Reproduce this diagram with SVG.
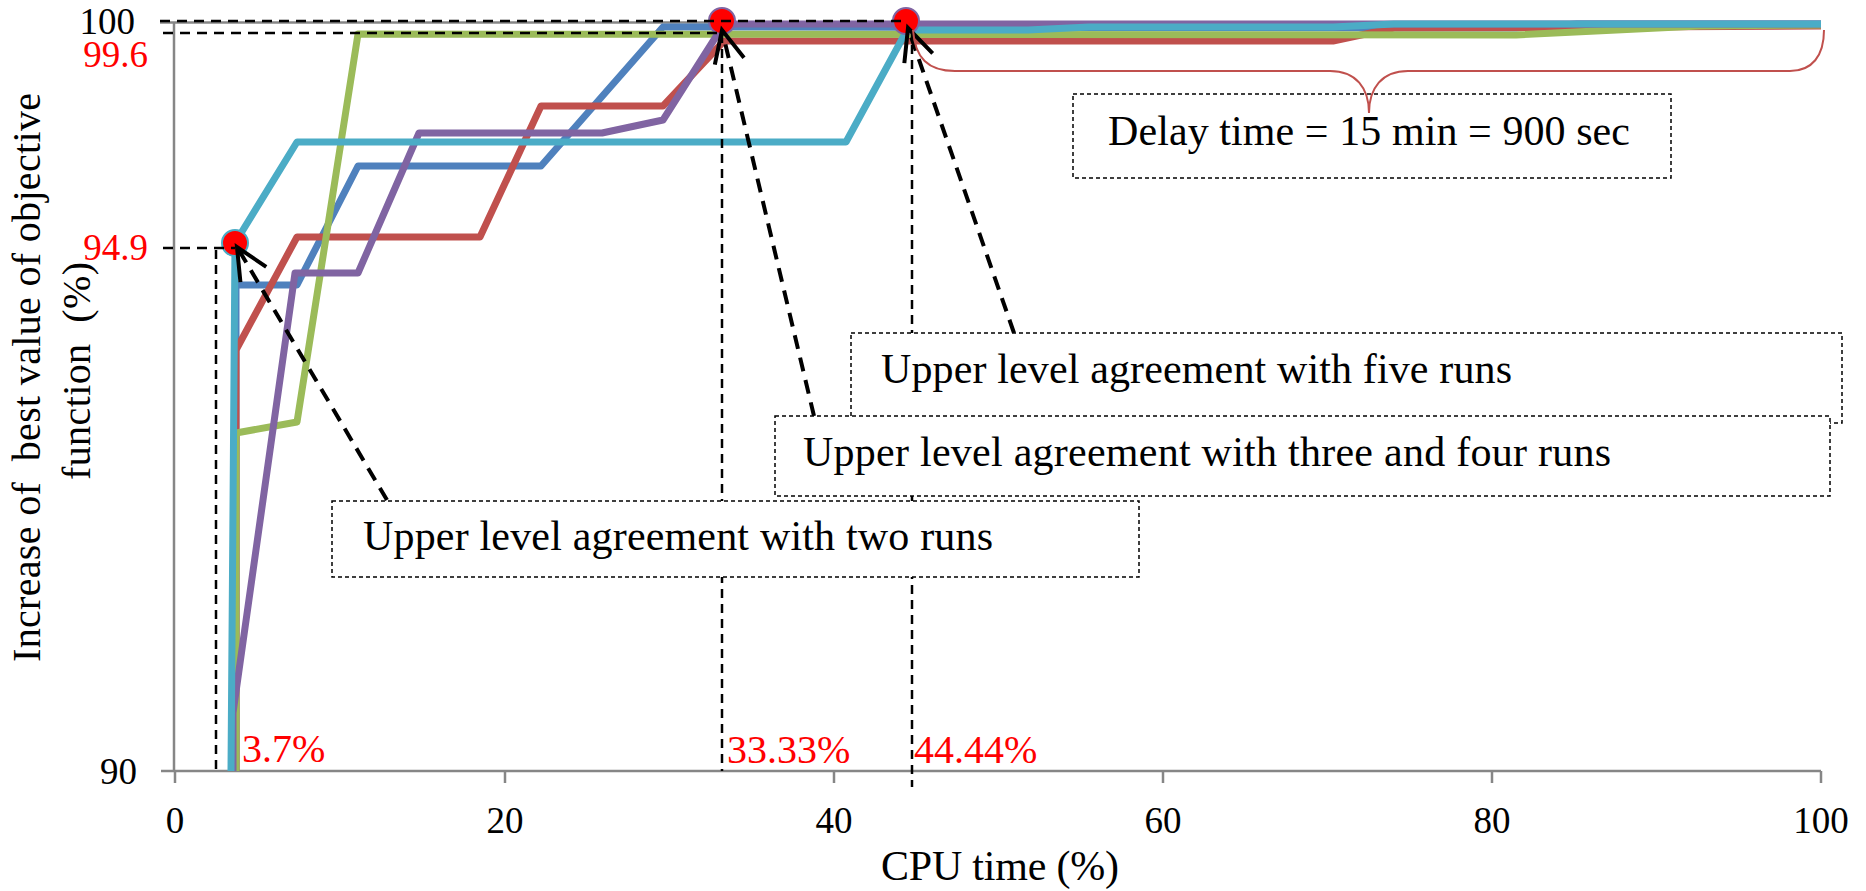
<svg xmlns="http://www.w3.org/2000/svg" width="1866" height="891" viewBox="0 0 1866 891">
<style>
text{font-family:"Liberation Serif","Times New Roman",serif;fill:#000}
.red{fill:#FF0000}
.axis{stroke:#868686;stroke-width:2.5;fill:none}
.s{fill:none;stroke-width:7;stroke-linejoin:round}
.ref{fill:none;stroke:#000;stroke-width:2.5;stroke-dasharray:10 7}
.vref{fill:none;stroke:#000;stroke-width:2.5;stroke-dasharray:9 6}
.arr{fill:none;stroke:#000;stroke-width:4;stroke-dasharray:14 9;marker-end:url(#head)}
.box{fill:#fff;stroke:#000;stroke-width:1.5;stroke-dasharray:4 3}
.dot{fill:#FF0000;stroke-width:2}
.lbl{font-size:40px}
.bt{font-size:42px}
.tick{font-size:37px}
</style>
<defs>
<marker id="head" markerUnits="userSpaceOnUse" orient="auto" markerWidth="80" markerHeight="80" refX="0" refY="0" viewBox="-40 -40 80 80" overflow="visible">
<path d="M-32,-15 L0,0 L-32,15" fill="none" stroke="#000" stroke-width="4"/>
</marker>
</defs>
<rect width="1866" height="891" fill="#fff"/>

<g id="axes">
<line class="axis" x1="174" y1="22" x2="174" y2="771"/>
<line class="axis" x1="160" y1="22.5" x2="1821" y2="22.5"/>
<line class="axis" x1="161" y1="771" x2="1821" y2="771"/>
<path class="axis" d="M175,771V783M505,771V783M834,771V783M1163,771V783M1492,771V783M1821,771V783"/>
<text class="tick" x="135" y="34" text-anchor="end">100</text>
<text class="tick red" x="148" y="67" text-anchor="end">99.6</text>
<text class="tick red" x="148" y="260" text-anchor="end">94.9</text>
<text class="tick" x="137" y="784" text-anchor="end">90</text>
<text class="tick" x="175" y="833" text-anchor="middle">0</text>
<text class="tick" x="505" y="833" text-anchor="middle">20</text>
<text class="tick" x="834" y="833" text-anchor="middle">40</text>
<text class="tick" x="1163" y="833" text-anchor="middle">60</text>
<text class="tick" x="1492" y="833" text-anchor="middle">80</text>
<text class="tick" x="1821" y="833" text-anchor="middle">100</text>
<text class="bt" x="881" y="880" textLength="238">CPU time (%)</text>
<text class="lbl" transform="translate(40,662) rotate(-90)" x="0" y="0" textLength="569" xml:space="preserve">Increase of  best value of objective</text>
<text class="lbl" transform="translate(90,480) rotate(-90)" x="0" y="0" textLength="218" xml:space="preserve">function  (%)</text>
</g>

<g id="series">
<path class="s" stroke="#4F81BD" d="M236,771 L236,285 L297,285 L358,166 L541,166 L663,27 L1516,28 L1577,24 L1821,24"/>
<path class="s" stroke="#C0504D" d="M236,771 L236,350 L297,237 L480,237 L541,106 L663,106 L724,41 L1333,41 L1394,28 L1821,26"/>
<path class="s" stroke="#9BBB59" d="M236,771 L236,433 L297,422 L358,34 L1516,35 L1699,26 L1821,25"/>
<path class="s" stroke="#8064A2" d="M233,771 L233,713 L295,273 L358,273 L419,133 L602,133 L663,120 L724,24 L1821,24"/>
<path class="s" stroke="#4BACC6" d="M231,771 L235,243 L297,142 L846,142 L907,30 L1028,30 L1089,27 L1333,27 L1394,24 L1821,24"/>
</g>

<g id="markers">
<circle id="p1" class="dot" cx="235" cy="243" r="13" stroke="#4BACC6"/>
<circle id="p2" class="dot" cx="722" cy="21" r="13" stroke="#8064A2"/>
<circle id="p3" class="dot" cx="906" cy="21" r="13" stroke="#8064A2"/>
</g>

<g id="guides">
<path class="ref" d="M160,21 L907,21"/>
<path class="ref" d="M163,33 L722,33"/>
<path class="ref" d="M163,248 L235,248"/>
<path class="vref" d="M216,250 L216,771"/>
<path class="vref" d="M722,34 L722,771"/>
<path class="vref" d="M912,30 L912,787"/>
</g>

<g id="connectors">
<path class="arr" d="M387,500 L237,247"/>
<path class="arr" d="M814,416 L722,30"/>
<path class="arr" d="M1014,333 L908,28"/>
</g>

<g id="box-delay">
<rect class="box" x="1073" y="94" width="598" height="84"/>
<text class="bt" x="1108" y="145" textLength="522">Delay time = 15 min = 900 sec</text>
</g>
<g id="brace">
<path d="M913,30 C915,58 928,71 955,71 L1330,71 C1356,71 1369,88 1369,113 C1369,88 1382,71 1408,71 L1790,71 C1812,71 1824,56 1824,30" fill="none" stroke="#C0504D" stroke-width="2"/>
</g>
<g id="box-five">
<rect class="box" x="851" y="333" width="991" height="90"/>
<text class="bt" x="881" y="383" textLength="631">Upper level agreement with five runs</text>
</g>
<g id="box-three">
<rect class="box" x="775" y="416" width="1055" height="80"/>
<text class="bt" x="803" y="466" textLength="808">Upper level agreement with three and four runs</text>
</g>
<g id="box-two">
<rect class="box" x="332" y="501" width="807" height="76"/>
<text class="bt" x="363" y="550" textLength="630">Upper level agreement with two runs</text>
</g>

<g id="pct-labels">
<text class="lbl red" x="242" y="762">3.7%</text>
<text class="lbl red" x="727" y="763">33.33%</text>
<text class="lbl red" x="914" y="763">44.44%</text>
</g>
</svg>
